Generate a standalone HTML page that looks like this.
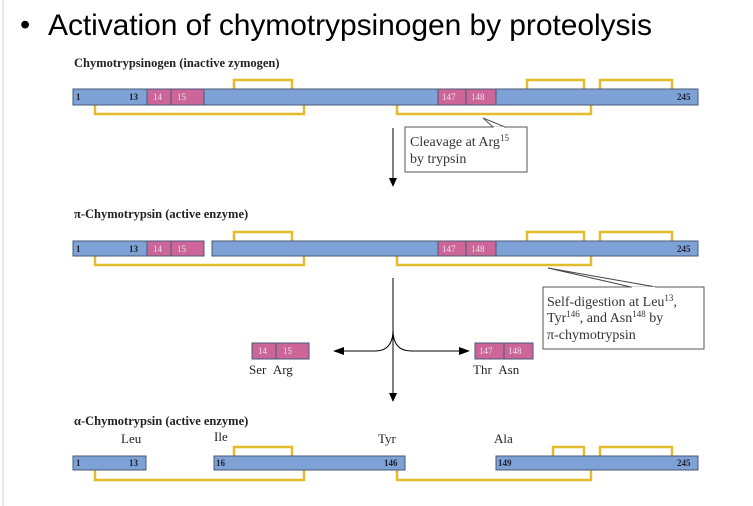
<!DOCTYPE html>
<html><head><meta charset="utf-8"><style>
body{margin:0;background:#fff;width:753px;height:506px;overflow:hidden}
svg{display:block}
.t{font-family:"Liberation Serif",serif}
</style></head><body>
<svg width="753" height="506" xmlns="http://www.w3.org/2000/svg">
<line x1="3" y1="0" x2="3" y2="506" stroke="#d0d0d0" stroke-width="1"/>
<text x="20" y="34" font-family="Liberation Sans,sans-serif" font-size="29" fill="#000">•</text>
<text x="48" y="35" font-family="Liberation Sans,sans-serif" font-size="30" fill="#000" textLength="604">Activation of chymotrypsinogen by proteolysis</text>

<g class="t" fill="#222">
<text x="74" y="67" font-size="12.5" font-weight="bold">Chymotrypsinogen (inactive zymogen)</text>
<text x="74" y="218" font-size="12.5" font-weight="bold">π-Chymotrypsin (active enzyme)</text>
<text x="74" y="425" font-size="12.5" font-weight="bold">α-Chymotrypsin (active enzyme)</text>
</g>

<g fill="none" stroke="#e3bb2c" stroke-width="2.5">
<polyline points="234,89 234,80 292,80 292,89"/>
<polyline points="527,89 527,80 584,80 584,89"/>
<polyline points="600,89 600,80 672,80 672,89"/>
<polyline points="95,105 95,114 304,114 304,105"/>
<polyline points="397,105 397,114 591,114 591,105"/>
<polyline points="234,241 234,232 292,232 292,241"/>
<polyline points="527,241 527,232 584,232 584,241"/>
<polyline points="600,241 600,232 672,232 672,241"/>
<polyline points="95,256 95,265 304,265 304,256"/>
<polyline points="397,256 397,265 591,265 591,256"/>
<polyline points="234,456 234,447 292,447 292,456"/>
<polyline points="553,456 553,447 584,447 584,456"/>
<polyline points="600,456 600,447 672,447 672,456"/>
<polyline points="95,470 95,480 304,480 304,470"/>
<polyline points="397,470 397,480 591,480 591,470"/>
</g>

<g stroke="#4a5878" stroke-width="1">
<rect x="73" y="89" width="625" height="16" fill="#7fa2d6"/>
<rect x="147" y="89" width="24" height="16" fill="#cc6699"/>
<rect x="171" y="89" width="33" height="16" fill="#cc6699"/>
<rect x="438" y="89" width="28" height="16" fill="#cc6699"/>
<rect x="466" y="89" width="30" height="16" fill="#cc6699"/>
<rect x="73" y="241" width="131" height="15" fill="#7fa2d6"/>
<rect x="212" y="241" width="486" height="15" fill="#7fa2d6"/>
<rect x="147" y="241" width="24" height="15" fill="#cc6699"/>
<rect x="171" y="241" width="33" height="15" fill="#cc6699"/>
<rect x="438" y="241" width="28" height="15" fill="#cc6699"/>
<rect x="466" y="241" width="30" height="15" fill="#cc6699"/>
<rect x="252" y="343" width="24" height="16" fill="#cc6699"/>
<rect x="276" y="343" width="33" height="16" fill="#cc6699"/>
<rect x="475" y="343" width="29" height="16" fill="#cc6699"/>
<rect x="504" y="343" width="29" height="16" fill="#cc6699"/>
<rect x="73" y="456" width="73" height="14" fill="#7fa2d6"/>
<rect x="214" y="456" width="191" height="14" fill="#7fa2d6"/>
<rect x="496" y="456" width="202" height="14" fill="#7fa2d6"/>
</g>

<g class="t" font-size="9" font-weight="bold">
<g fill="#1a2030">
<text x="76" y="100">1</text><text x="129" y="100">13</text><text x="677" y="100">245</text>
<text x="76" y="252">1</text><text x="129" y="252">13</text><text x="677" y="252">245</text>
<text x="76" y="466">1</text><text x="129" y="466">13</text><text x="216" y="466">16</text><text x="384" y="466">146</text><text x="498" y="466">149</text><text x="677" y="466">245</text>
</g>
<g fill="#f4e0ea" font-weight="normal">
<text x="153" y="100">14</text><text x="177" y="100">15</text><text x="442" y="100">147</text><text x="471" y="100">148</text>
<text x="153" y="252">14</text><text x="177" y="252">15</text><text x="442" y="252">147</text><text x="471" y="252">148</text>
<text x="258" y="354">14</text><text x="283" y="354">15</text><text x="479" y="354">147</text><text x="508" y="354">148</text>
</g>
</g>

<g class="t" font-size="13" fill="#222">
<text x="249" y="374">Ser&#160;&#160;Arg</text>
<text x="473" y="374">Thr&#160;&#160;Asn</text>
<text x="121" y="443">Leu</text>
<text x="214" y="441">Ile</text>
<text x="378" y="443">Tyr</text>
<text x="494" y="443">Ala</text>
</g>

<line x1="393" y1="128" x2="393" y2="180" stroke="#000" stroke-width="1"/>
<polygon points="389,178 397,178 393,187" fill="#000"/>
<polygon points="483,118 493,127 505,127" fill="#fff" stroke="#555"/>
<rect x="405" y="127" width="122" height="45" fill="#fff" stroke="#555"/>
<line x1="494" y1="127.5" x2="504" y2="127.5" stroke="#fff" stroke-width="1.5"/>
<text class="t" x="410" y="146" font-size="14" fill="#333">Cleavage at Arg<tspan font-size="9" dy="-5">15</tspan></text>
<text class="t" x="410" y="163" font-size="14" fill="#333">by trypsin</text>

<polygon points="548,268 631,287 656,287" fill="#fff" stroke="#444"/>
<rect x="543" y="287" width="161" height="62" fill="#fff" stroke="#555"/>
<line x1="632" y1="287.5" x2="655" y2="287.5" stroke="#fff" stroke-width="1.5"/>
<text class="t" x="547" y="306" font-size="14" fill="#333">Self-digestion at Leu<tspan font-size="9" dy="-5">13</tspan><tspan dy="5">,</tspan></text>
<text class="t" x="547" y="322" font-size="14" fill="#333">Tyr<tspan font-size="9" dy="-5">146</tspan><tspan dy="5">, and Asn</tspan><tspan font-size="9" dy="-5">148</tspan><tspan dy="5"> by</tspan></text>
<text class="t" x="547" y="339" font-size="14" fill="#333">π-chymotrypsin</text>

<line x1="393" y1="278" x2="393" y2="395" stroke="#000" stroke-width="1"/>
<polygon points="389,393 397,393 393,402" fill="#000"/>
<path d="M393,330 Q393,351 375,351 L342,351" fill="none" stroke="#000"/>
<path d="M393,330 Q393,351 411,351 L460,351" fill="none" stroke="#000"/>
<polygon points="333,351 344,347 344,355" fill="#000"/>
<polygon points="470,351 459,347 459,355" fill="#000"/>
</svg>
</body></html>
